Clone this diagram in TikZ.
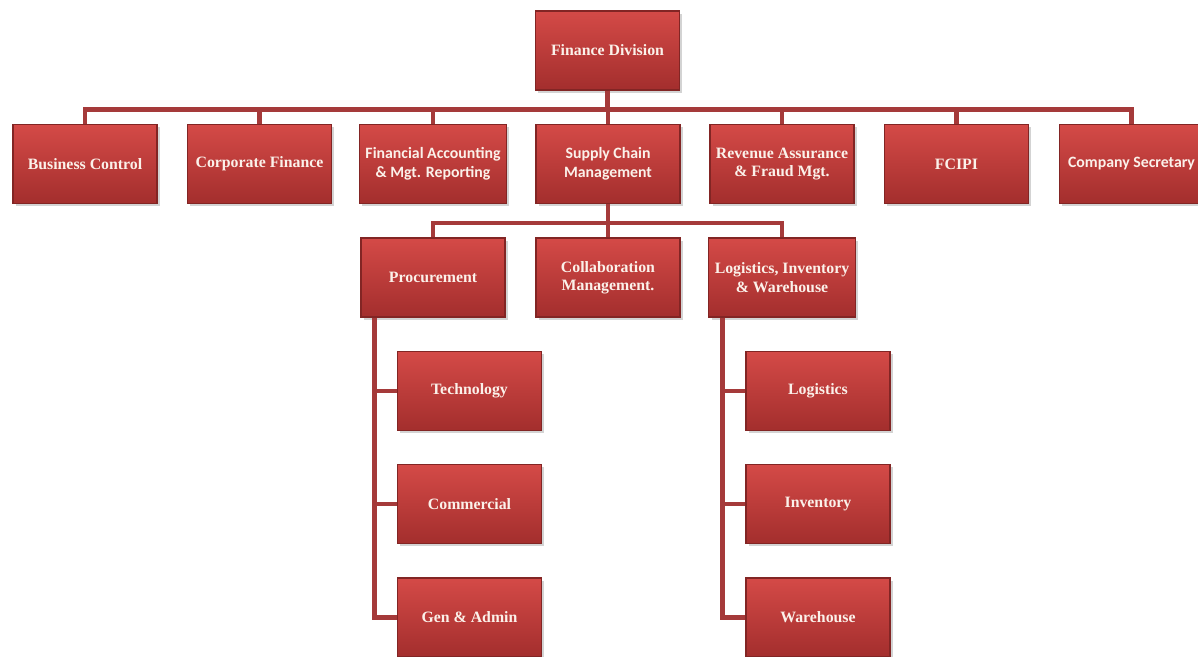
\documentclass[tikz,border=0pt]{standalone}
\usepackage{fontspec}
\setmainfont{Liberation Serif}
\newfontfamily\calfont{Carlito}
\usepackage{tikz}
\usetikzlibrary{shadows}
\definecolor{boxtop}{HTML}{D44A47}
\definecolor{boxbottom}{HTML}{A32E2D}
\definecolor{linkred}{HTML}{A53A3A}
\definecolor{boxtext}{HTML}{FBF1EA}
\tikzset{
    unit/.style={rectangle, top color=boxtop, bottom color=boxbottom,
        draw=boxbottom!80!black, line width=0.6pt,
        minimum width=2.88cm, minimum height=1.58cm, align=center,
        text=boxtext, font=\fontsize{9}{10.5}\selectfont\bfseries,
        drop shadow={shadow xshift=1.5pt, shadow yshift=-1.5pt, opacity=0.35}},
    serif/.style={},
    sans/.style={font=\calfont\fontsize{9}{10.5}\selectfont\bfseries},
    link/.style={linkred, line width=2.4pt}
}

\begin{document}
\begin{tikzpicture}
            \useasboundingbox (0,0) rectangle (23.96,-13.14);
            \node[unit] (fin) at (12.15,-1.01) {Finance Division};
            \foreach \name/\x/\sty/\txt in {bc/1.70/serif/Business Control,
                    cf/5.19/serif/Corporate Finance,
                    fa/8.66/sans/{Financial Accounting\\ \& Mgt. Reporting},
                    scm/12.16/sans/{Supply Chain\\ Management},
                    ra/15.64/serif/{Revenue Assurance\\ \& Fraud Mgt.},
                    fc/19.13/serif/FCIPI,
                    cs/22.63/sans/Company Secretary}{
                \node[unit,\sty] (\name) at (\x,-3.28) {\txt};
                \draw[link] (fin.south) -- ++(0,-0.38) -| (\name.north);
            }
            \foreach \name/\x/\txt in {proc/8.66/Procurement,
                    colm/12.16/{Collaboration\\ Management.},
                    liw/15.64/{Logistics, Inventory\\ \& Warehouse}}{
                \node[unit] (\name) at (\x,-5.55) {\txt};
                \draw[link] (scm.south) -- ++(0,-0.38) -| (\name.north);
            }
            \foreach \name/\y/\txt in {tech/-7.82/Technology, comm/-10.08/Commercial, gen/-12.35/Gen \& Admin}{
                \node[unit] (\name) at (9.39,\y) {\txt};
                \draw[link] ([xshift=0.28cm]proc.south west) |- (\name.west);
            }
            \foreach \name/\y/\txt in {logi/-7.82/Logistics, inv/-10.08/Inventory, ware/-12.35/Warehouse}{
                \node[unit] (\name) at (16.36,\y) {\txt};
                \draw[link] ([xshift=0.28cm]liw.south west) |- (\name.west);
            }
        \end{tikzpicture}
\end{document}
